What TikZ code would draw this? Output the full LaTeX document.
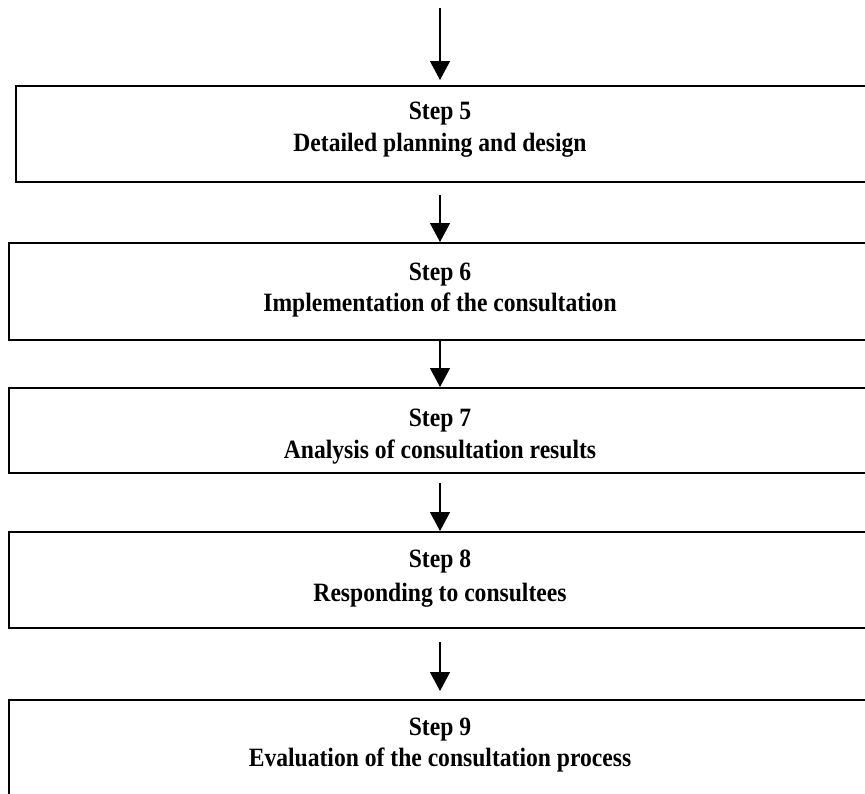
\documentclass[tikz,border=0pt]{standalone}
\usepackage{fontspec}
\setmainfont{Liberation Serif}
\usetikzlibrary{arrows.meta}
\newcommand{\tallbox}[1]{\scalebox{1}[1.12]{#1}}
\tikzset{
  stepbox/.style={draw=black, line width=2.5pt, inner sep=0pt, outer sep=0pt,
    anchor=north west, minimum width=900pt},
  steptxt/.style={anchor=base, inner sep=0pt, font=\fontsize{23.6}{30}\selectfont\bfseries},
  flow/.style={line width=1.3pt, -{Triangle[width=20pt,length=19pt]}}
}
\begin{document}
\begin{tikzpicture}[x=1pt,y=-1pt]
\useasboundingbox (0,0) rectangle (865,793);
\coordinate (ax) at (440,0);
\coordinate (start) at (440,8);

% boxes
\node[stepbox, minimum height=96pt] (b5) at (16,86) {};
\node[stepbox, minimum height=97pt] (b6) at (9,243) {};
\node[stepbox, minimum height=85pt] (b7) at (9,388) {};
\node[stepbox, minimum height=96pt] (b8) at (9,532) {};
\node[stepbox, minimum height=130pt] (b9) at (9,700) {};

% texts
\node[steptxt] (s5) at (440,119) {\tallbox{Step 5}};
\node[steptxt] (t5) at (440,151) {\tallbox{Detailed planning and design}};
\node[steptxt] (s6) at (440,280) {\tallbox{Step 6}};
\node[steptxt] (t6) at (440,311) {\tallbox{Implementation of the consultation}};
\node[steptxt] (s7) at (440,426) {\tallbox{Step 7}};
\node[steptxt] (t7) at (440,458) {\tallbox{Analysis of consultation results}};
\node[steptxt] (s8) at (440,567) {\tallbox{Step 8}};
\node[steptxt] (t8) at (440,601) {\tallbox{Responding to consultees}};
\node[steptxt] (s9) at (440,735) {\tallbox{Step 9}};
\node[steptxt] (t9) at (440,766) {\tallbox{Evaluation of the consultation process}};

% connectors
\draw[flow] (start) -- ([yshift=6pt]b5.north -| ax);
\draw[flow] ([yshift=-13pt]b5.south -| ax) -- ([yshift=1pt]b6.north -| ax);
\draw[flow] (b6.south -| ax) -- ([yshift=1pt]b7.north -| ax);
\draw[flow] ([yshift=-10pt]b7.south -| ax) -- ([yshift=1pt]b8.north -| ax);
\draw[flow] ([yshift=-14pt]b8.south -| ax) -- ([yshift=9pt]b9.north -| ax);
\end{tikzpicture}
\end{document}
